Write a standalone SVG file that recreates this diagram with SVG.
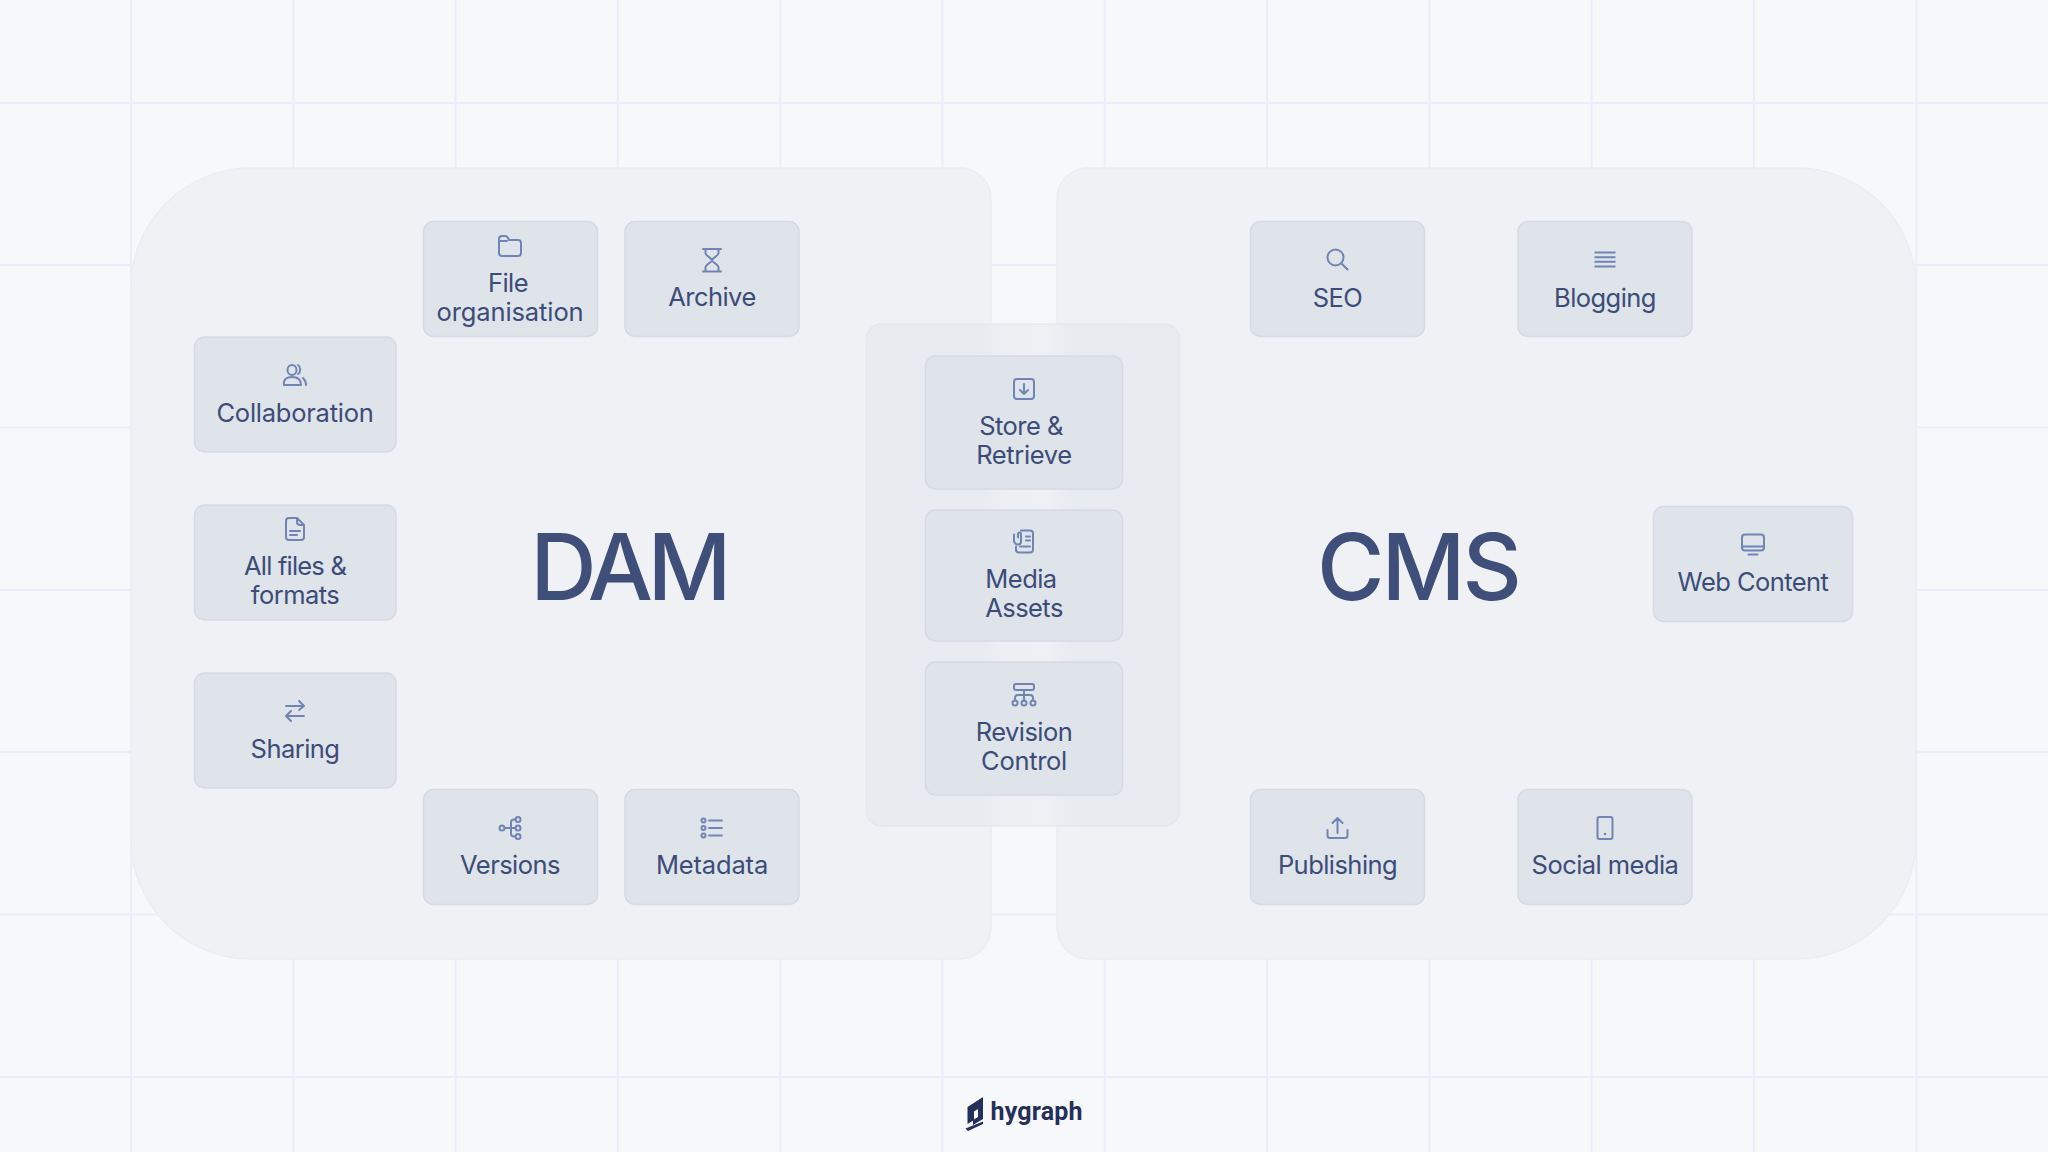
<svg xmlns="http://www.w3.org/2000/svg" width="2048" height="1152" viewBox="0 0 2048 1152">
<style>
.grid line{stroke:#EBEDFA;stroke-width:2}
.panel{fill:#F0F1F5;stroke:#EBEDF4;stroke-width:1.5}
.box{fill:#DFE3EA;stroke:#D5DAE6;stroke-width:1.5}
text{font-family:"Inter","Liberation Sans",sans-serif;fill:#3C4C78}
.lb{font-size:25.5px;text-anchor:middle;letter-spacing:-0.55px}
.big{font-size:92px;font-weight:500;text-anchor:middle;fill:#3F4F7A}
.ic{fill:none;stroke:#7085B4;stroke-width:2;stroke-linecap:round;stroke-linejoin:round}
.dot{fill:#7085B4}
</style>
<defs>
<linearGradient id="mid" x1="866" x2="1180" y1="0" y2="0" gradientUnits="userSpaceOnUse">
<stop offset="0" stop-color="#E9EBF0"/>
<stop offset="0.37" stop-color="#E8EBF0"/>
<stop offset="0.44" stop-color="#EDEFF3"/>
<stop offset="0.58" stop-color="#EEF0F4"/>
<stop offset="0.65" stop-color="#E8EBF0"/>
<stop offset="1" stop-color="#E8EAEF"/>
</linearGradient>
</defs>
<rect width="2048" height="1152" fill="#F7F8FA"/>
<g class="grid">
<line x1="131" y1="0" x2="131" y2="1152"/><line x1="293.3" y1="0" x2="293.3" y2="1152"/><line x1="455.6" y1="0" x2="455.6" y2="1152"/><line x1="617.9" y1="0" x2="617.9" y2="1152"/><line x1="780.2" y1="0" x2="780.2" y2="1152"/><line x1="942.5" y1="0" x2="942.5" y2="1152"/><line x1="1104.8" y1="0" x2="1104.8" y2="1152"/><line x1="1267.1" y1="0" x2="1267.1" y2="1152"/><line x1="1429.4" y1="0" x2="1429.4" y2="1152"/><line x1="1591.7" y1="0" x2="1591.7" y2="1152"/><line x1="1754" y1="0" x2="1754" y2="1152"/><line x1="1916.3" y1="0" x2="1916.3" y2="1152"/>
<line x1="0" y1="103" x2="2048" y2="103"/><line x1="0" y1="265" x2="2048" y2="265"/><line x1="0" y1="427.5" x2="2048" y2="427.5"/><line x1="0" y1="590" x2="2048" y2="590"/><line x1="0" y1="752" x2="2048" y2="752"/><line x1="0" y1="914.5" x2="2048" y2="914.5"/><line x1="0" y1="1077" x2="2048" y2="1077"/>
</g>
<g id="dam-panel">
<path class="panel" d="M251 168H960a31 31 0 0 1 31 31V928a31 31 0 0 1-31 31H251a120 120 0 0 1-120-120V288a120 120 0 0 1 120-120Z"/>
<text class="big" x="628" y="600" style="letter-spacing:-5.500px">DAM</text>
</g>
<g id="cms-panel">
<path class="panel" d="M1088 168H1796a120 120 0 0 1 120 120V839a120 120 0 0 1-120 120H1088a31 31 0 0 1-31-31V199a31 31 0 0 1 31-31Z"/>
<text class="big" x="1418" y="600" style="letter-spacing:-3px">CMS</text>
</g>
<g id="overlap-panel"><rect x="866.500" y="324" width="313" height="502" rx="15" fill="url(#mid)" stroke="#E4E7EE" stroke-width="1.5"/></g>

<g id="file-organisation"><rect class="box" x="423.500" y="221.500" width="174" height="115" rx="10"/>
<path class="ic" transform="translate(510 246)" d="M-11-7q0-3 3-3h3q2 0 3 2l1 2h9q3 0 3 3V7q0 3-3 3H-8q-3 0-3-3ZM-11-5h8"/>
<text class="lb" x="508" y="292">File</text><text class="lb" x="510" y="321" style="letter-spacing:-0.1px">organisation</text></g>
<g id="archive"><rect class="box" x="625" y="221.500" width="174" height="115" rx="10"/>
<path class="ic" transform="translate(712 260)" d="M-9-11H9M-9 11.500H9M-6.500-11v4c0 3 6.500 5 6.500 7.300c0 2-6.500 4-6.500 7v4M6.500-11v4c0 3-6.500 5-6.500 7.300c0 2 6.500 4 6.500 7v4"/>
<text class="lb" x="712" y="306">Archive</text></g>
<g id="collaboration"><rect class="box" x="194.500" y="337" width="201.500" height="115" rx="10"/>
<g class="ic" transform="translate(295 375)"><ellipse cx="-3" cy="-5" rx="4.500" ry="5"/><path d="M3-10c3 2 3 7 0 9M-11 10c-1-6 3-8 8-8s9 2 9 8ZM8 3c2 2 3 4 3 7"/></g>
<text class="lb" x="295" y="421.500" style="letter-spacing:-0.25px">Collaboration</text></g>
<g id="all-files"><rect class="box" x="194.500" y="505" width="201.500" height="115" rx="10"/>
<g class="ic" transform="translate(295 529)"><path d="M-9-8q0-3 3-3H2L9-4V8q0 3-3 3H-6q-3 0-3-3ZM2-11v4q0 3 3 3h4M-5 2H5M-5 6H2"/></g>
<text class="lb" x="295" y="575" style="letter-spacing:-0.8px">All files &amp;</text><text class="lb" x="295" y="604">formats</text></g>
<g id="sharing"><rect class="box" x="194.500" y="673" width="201.500" height="115" rx="10"/>
<path class="ic" transform="translate(295 711)" d="M-9-5H9M4-10L9-5L4-1M9 5H-9M-4 0L-9 5L-4 10"/>
<text class="lb" x="295" y="757.500">Sharing</text></g>
<g id="versions"><rect class="box" x="423.500" y="789.500" width="174" height="115" rx="10"/>
<g class="ic" transform="translate(511 828)"><circle cx="-9" cy="0" r="2.500"/><circle cx="7" cy="-8.500" r="2.500"/><circle cx="7" cy="0" r="2.500"/><circle cx="7" cy="8.500" r="2.500"/><path d="M-6.500 0H4.500M0 0V-5.500Q0-8.500 3-8.500H4.500M0 0V5.500Q0 8.500 3 8.500H4.500"/></g>
<text class="lb" x="510" y="874">Versions</text></g>
<g id="metadata"><rect class="box" x="625" y="789.500" width="174" height="115" rx="10"/>
<g class="ic" transform="translate(712 828)"><circle cx="-8.500" cy="-7.500" r="2"/><circle cx="-8.500" cy="0" r="2"/><circle cx="-8.500" cy="7.500" r="2"/><path d="M-3-7.500H10M-3 0H10M-3 7.500H10"/></g>
<text class="lb" x="712" y="874" style="letter-spacing:-0.15px">Metadata</text></g>

<g id="store-retrieve"><rect class="box" x="925.500" y="356" width="197" height="133" rx="10"/>
<g class="ic" transform="translate(1024 389)"><rect x="-10" y="-10" width="20" height="20" rx="3"/><path d="M0-5V4.500M-4 1L0 5L4 1"/></g>
<text class="lb" x="1021" y="435">Store &amp;</text><text class="lb" x="1024" y="464" style="letter-spacing:-0.35px">Retrieve</text></g>
<g id="media-assets"><rect class="box" x="925.500" y="510" width="197" height="131" rx="10"/>
<g class="ic" transform="translate(1024 541.500)"><path d="M-3-11H6q3 0 3 3V8q0 3-3 3H-5q-3 0-3-3V5M2-5H6M2-1H6M-4 5H6M-6-4V-7Q-6-9-4.500-9T-3-7V0Q-3 3-6 3T-10 0V-7"/></g>
<text class="lb" x="1021" y="588">Media</text><text class="lb" x="1024" y="617">Assets</text></g>
<g id="revision-control"><rect class="box" x="925.500" y="662" width="197" height="133" rx="10"/>
<g class="ic" transform="translate(1024 695)"><rect x="-10" y="-11" width="20" height="6" rx="2"/><path d="M0-5V6M-9 4V3Q-9 0-6 0H6Q9 0 9 3V4"/><circle cx="-9" cy="8" r="2.500"/><circle cx="0" cy="8" r="2.500"/><circle cx="9" cy="8" r="2.500"/></g>
<text class="lb" x="1024" y="741">Revision</text><text class="lb" x="1024" y="770" style="letter-spacing:-0.3px">Control</text></g>

<g id="seo"><rect class="box" x="1250.500" y="221.500" width="174" height="115" rx="10"/>
<g class="ic" transform="translate(1337.500 259.500)"><circle cx="-2" cy="-2" r="8"/><path d="M4 4L10 10"/></g>
<text class="lb" x="1337.500" y="306.500">SEO</text></g>
<g id="blogging"><rect class="box" x="1518" y="221.500" width="174" height="115" rx="10"/>
<path class="ic" style="stroke-linecap:butt" transform="translate(1605 259.500)" d="M-10.500-7H10.500M-10.500-2.300H10.500M-10.500 2.300H10.500M-10.500 7H10.500"/>
<text class="lb" x="1605" y="306.500">Blogging</text></g>
<g id="publishing"><rect class="box" x="1250.500" y="789.500" width="174" height="115" rx="10"/>
<path class="ic" transform="translate(1337.500 828)" d="M-10 2V7.500Q-10 10-7.500 10H7.500Q10 10 10 7.500V2M0 5V-10M-5-5L0-10L5-5"/>
<text class="lb" x="1337.500" y="874">Publishing</text></g>
<g id="social-media"><rect class="box" x="1518" y="789.500" width="174" height="115" rx="10"/>
<g transform="translate(1605 828)"><rect class="ic" x="-7.500" y="-11" width="15" height="22" rx="2"/><circle class="dot" cx="0" cy="6" r="1.300"/></g>
<text class="lb" x="1605" y="874">Social media</text></g>
<g id="web-content"><rect class="box" x="1653.500" y="506.500" width="199" height="115" rx="10"/>
<g class="ic" transform="translate(1753 544)"><rect x="-11" y="-9.500" width="22" height="16" rx="3"/><path d="M-11 2.500H11M-4.500 10.500H4.500"/></g>
<text class="lb" x="1753" y="591">Web Content</text></g>

<g id="hygraph-logo">
<path d="M983 1097V1119L973 1125V1120L978 1117V1109L974 1111.500V1120L967.500 1124V1107ZM983 1121.500V1124L968 1131L965.500 1128.500Z" fill="#25305A"/>
<text x="990.500" y="1120" style="font-family:Roboto,'Liberation Sans',sans-serif;font-size:25px;font-weight:700;letter-spacing:0.2px;fill:#25305A">hygraph</text>
</g>
</svg>
